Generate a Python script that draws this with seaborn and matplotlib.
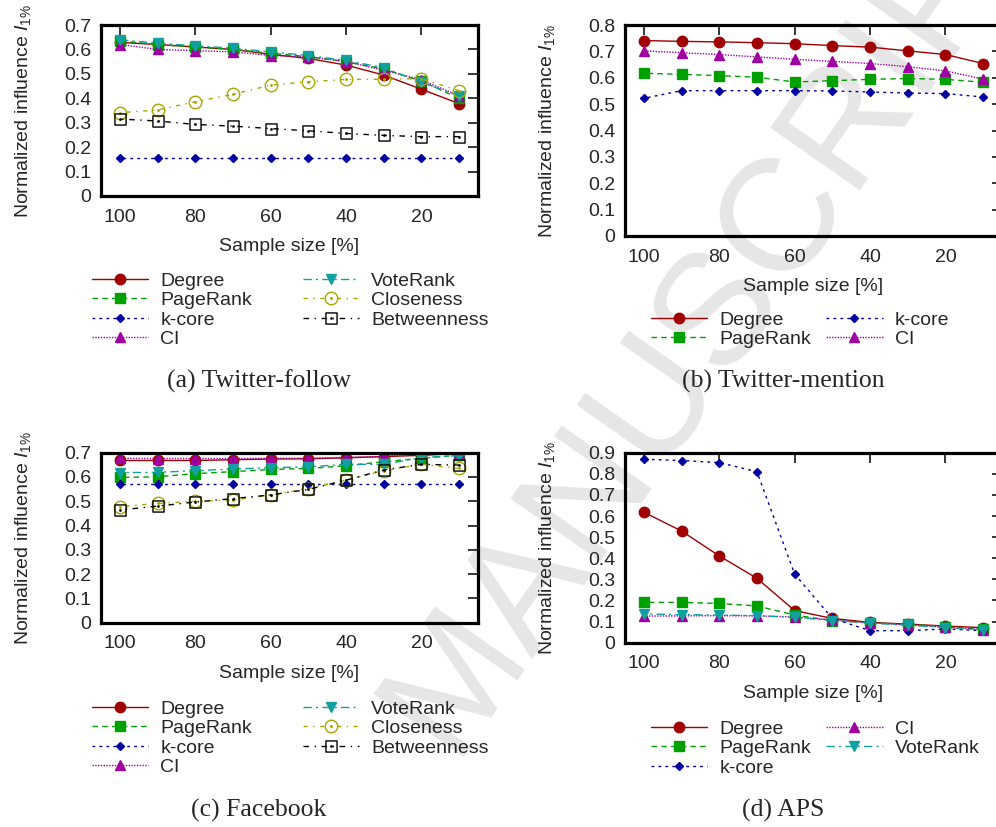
import numpy as np
import pandas as pd
import matplotlib
matplotlib.use('Agg')
import matplotlib.pyplot as plt
import seaborn as sns
from matplotlib.path import Path
from matplotlib.ticker import FuncFormatter

# sample sizes [%] shared by every panel
sizes = [100, 90, 80, 70, 60, 50, 40, 30, 20, 10]

# (a) Twitter-follow
tf_degree = [0.629, 0.620, 0.610, 0.600, 0.580, 0.563, 0.536, 0.495, 0.437, 0.378]
tf_pagerank = [0.635, 0.620, 0.610, 0.600, 0.585, 0.570, 0.550, 0.520, 0.470, 0.400]
tf_kcore = [0.154, 0.154, 0.154, 0.154, 0.154, 0.154, 0.154, 0.154, 0.154, 0.154]
tf_ci = [0.620, 0.600, 0.595, 0.590, 0.575, 0.570, 0.550, 0.515, 0.475, 0.410]
tf_voterank = [0.640, 0.625, 0.615, 0.605, 0.590, 0.575, 0.555, 0.525, 0.465, 0.410]
tf_closeness = [0.341, 0.352, 0.386, 0.416, 0.454, 0.468, 0.477, 0.478, 0.480, 0.431]
tf_betweenness = [0.315, 0.307, 0.293, 0.286, 0.276, 0.267, 0.256, 0.248, 0.243, 0.243]

# (b) Twitter-mention
tm_degree = [0.741, 0.738, 0.736, 0.733, 0.729, 0.722, 0.716, 0.702, 0.688, 0.654]
tm_pagerank = [0.617, 0.613, 0.608, 0.602, 0.584, 0.589, 0.594, 0.597, 0.594, 0.583]
tm_kcore = [0.522, 0.551, 0.551, 0.551, 0.551, 0.550, 0.546, 0.542, 0.540, 0.527]
tm_ci = [0.702, 0.695, 0.688, 0.679, 0.670, 0.662, 0.654, 0.642, 0.626, 0.595]

# (c) Facebook
fb_degree = [0.668, 0.668, 0.668, 0.671, 0.674, 0.675, 0.679, 0.684, 0.689, 0.697]
fb_pagerank = [0.598, 0.601, 0.614, 0.622, 0.631, 0.635, 0.646, 0.663, 0.677, 0.690]
fb_kcore = [0.570, 0.570, 0.570, 0.570, 0.570, 0.570, 0.570, 0.570, 0.570, 0.570]
fb_ci = [0.677, 0.676, 0.676, 0.676, 0.677, 0.677, 0.681, 0.684, 0.700, 0.700]
fb_voterank = [0.618, 0.619, 0.626, 0.633, 0.638, 0.642, 0.652, 0.652, 0.680, 0.688]
fb_closeness = [0.478, 0.491, 0.500, 0.505, 0.526, 0.552, 0.587, 0.626, 0.652, 0.635]
fb_betweenness = [0.464, 0.480, 0.497, 0.511, 0.526, 0.549, 0.587, 0.629, 0.652, 0.649]

# (d) APS
aps_degree = [0.618, 0.529, 0.411, 0.305, 0.152, 0.115, 0.096, 0.088, 0.079, 0.071]
aps_pagerank = [0.191, 0.191, 0.186, 0.174, 0.131, 0.104, 0.095, 0.087, 0.076, 0.063]
aps_kcore = [0.869, 0.863, 0.853, 0.810, 0.325, 0.115, 0.057, 0.057, 0.065, 0.057]
aps_ci = [0.126, 0.127, 0.128, 0.127, 0.122, 0.108, 0.094, 0.085, 0.073, 0.062]
aps_voterank = [0.136, 0.133, 0.131, 0.128, 0.120, 0.105, 0.093, 0.083, 0.072, 0.060]

sns.set_style('white')
plt.rcParams['font.family'] = ['Liberation Sans', 'DejaVu Sans']
plt.rcParams['mathtext.fontset'] = 'custom'
plt.rcParams['mathtext.rm'] = 'Liberation Sans'
plt.rcParams['mathtext.it'] = 'Liberation Sans:italic'

# open symbols with a centre dot, like gnuplot
circle_dot = Path.make_compound_path(Path.unit_circle(), Path.circle((0, 0), 0.12))
square_dot = Path.make_compound_path(
    Path([(-1, -1), (1, -1), (1, 1), (-1, 1), (-1, -1)], closed=True),
    Path.circle((0, 0), 0.12))

styles = {
    'Degree': dict(color='#a00000', marker='o', ms=7.5, fill=True, ls='-'),
    'PageRank': dict(color='#00a000', marker='s', ms=6.5, fill=True, ls=(0, (4, 3))),
    'k-core': dict(color='#0000a0', marker='D', ms=4.5, fill=True, ls=(0, (2, 3))),
    'CI': dict(color='#a000a0', marker='^', ms=6.5, fill=True, ls=(0, (1, 1))),
    'VoteRank': dict(color='#10a0a0', marker='v', ms=6.5, fill=True, ls=(0, (6, 3, 1.5, 3))),
    'Closeness': dict(color='#a8a800', marker=circle_dot, ms=9, fill=False, ls=(0, (3, 4, 1, 4))),
    'Betweenness': dict(color='black', marker=square_dot, ms=8, fill=False, ls=(0, (4, 4, 1, 4))),
}


def draw(ax, series):
    for name, vals in series:
        st = styles[name]
        sns.lineplot(x=sizes, y=vals, ax=ax, color=st['color'], marker=st['marker'],
                     markersize=st['ms'], markeredgecolor=st['color'],
                     markerfacecolor=st['color'] if st['fill'] else 'none',
                     markeredgewidth=1.0, linewidth=1.0, errorbar=None, legend=False)
        line = ax.lines[-1]
        line.set_linestyle(st['ls'])
        line.set_label(name)


def style_axes(ax, ymax):
    ax.set_facecolor('none')
    ax.set_xlim(105, 5)
    ax.set_ylim(0, ymax)
    ax.set_xticks([100, 80, 60, 40, 20])
    ax.set_yticks(np.arange(0, ymax + 0.01, 0.1))
    ax.yaxis.set_major_formatter(FuncFormatter(lambda v, p: '0' if abs(v) < 1e-9 else f'{v:.1f}'))
    ax.tick_params(direction='in', length=7, width=1.3, top=True, right=True,
                   labelsize=14, pad=7)
    ax.tick_params(axis='x', pad=9)
    for sp in ax.spines.values():
        sp.set_linewidth(2.3)
        sp.set_color('black')
    ax.set_xlabel('Sample size [%]', fontsize=14, labelpad=9)
    ax.set_ylabel('Normalized influence $I_{1\\%}$', fontsize=14)
    ax.yaxis.set_label_coords(-0.18, 0.5)


fig = plt.figure(figsize=(9.96, 8.27), dpi=100)
W = 377 / 996
ax_a = fig.add_axes([101 / 996, 1 - 196 / 827, W, 171 / 827])
ax_b = fig.add_axes([625 / 996, 1 - 236 / 827, W, 211 / 827])
ax_c = fig.add_axes([101 / 996, 1 - 622.7 / 827, W, 170 / 827])
ax_d = fig.add_axes([625 / 996, 1 - 642.7 / 827, W, 190 / 827])

draw(ax_a, [('Degree', tf_degree), ('PageRank', tf_pagerank), ('k-core', tf_kcore),
            ('CI', tf_ci), ('VoteRank', tf_voterank), ('Closeness', tf_closeness),
            ('Betweenness', tf_betweenness)])
draw(ax_b, [('Degree', tm_degree), ('PageRank', tm_pagerank), ('k-core', tm_kcore),
            ('CI', tm_ci)])
draw(ax_c, [('Degree', fb_degree), ('PageRank', fb_pagerank), ('k-core', fb_kcore),
            ('CI', fb_ci), ('VoteRank', fb_voterank), ('Closeness', fb_closeness),
            ('Betweenness', fb_betweenness)])
draw(ax_d, [('Degree', aps_degree), ('PageRank', aps_pagerank), ('k-core', aps_kcore),
            ('CI', aps_ci), ('VoteRank', aps_voterank)])

style_axes(ax_a, 0.7)
style_axes(ax_b, 0.8)
style_axes(ax_c, 0.7)
style_axes(ax_d, 0.9)

legend_kw = dict(loc='upper left', ncol=2, frameon=False, fontsize=14, borderpad=0,
                 borderaxespad=0, handlelength=2.9, handletextpad=0.62,
                 labelspacing=0.1, numpoints=1, bbox_transform=fig.transFigure)
ax_a.legend(bbox_to_anchor=(92 / 996, 1 - 272 / 827), columnspacing=2.6, **legend_kw)
ax_b.legend(bbox_to_anchor=(651 / 996, 1 - 311 / 827), columnspacing=0.77, **legend_kw)
ax_c.legend(bbox_to_anchor=(92 / 996, 1 - 700 / 827), columnspacing=2.6, **legend_kw)
ax_d.legend(bbox_to_anchor=(651 / 996, 1 - 720 / 827), columnspacing=0.77, **legend_kw)

cap_kw = dict(ha='center', va='center', fontsize=18.5, family=['Liberation Serif', 'DejaVu Serif'])
fig.text(259 / 996, 1 - 381 / 827, '(a) Twitter-follow', **cap_kw)
fig.text(783 / 996, 1 - 381 / 827, '(b) Twitter-mention', **cap_kw)
fig.text(259 / 996, 1 - 810 / 827, '(c) Facebook', **cap_kw)
fig.text(783 / 996, 1 - 810 / 827, '(d) APS', **cap_kw)

# light diagonal watermark behind the plots
fig.text(720 / 996, 1 - 300 / 827, 'MANUSCRIPT', rotation=55, fontsize=115,
         color='#e6e6e6', ha='center', va='center', zorder=-10)

fig.savefig('out.png', dpi=100)
